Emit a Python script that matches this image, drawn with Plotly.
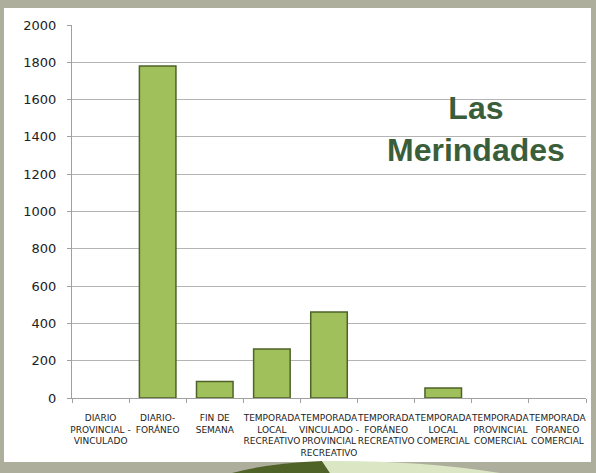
import plotly.graph_objects as go

categories = [
    "DIARIO<br>PROVINCIAL -<br>VINCULADO",
    "DIARIO-<br>FORÁNEO",
    "FIN DE<br>SEMANA",
    "TEMPORADA<br>LOCAL<br>RECREATIVO",
    "TEMPORADA<br>VINCULADO -<br>PROVINCIAL<br>RECREATIVO",
    "TEMPORADA<br>FORÁNEO<br>RECREATIVO",
    "TEMPORADA<br>LOCAL<br>COMERCIAL",
    "TEMPORADA<br>PROVINCIAL<br>COMERCIAL",
    "TEMPORADA<br>FORANEO<br>COMERCIAL",
]
values = [0, 1780, 88, 263, 461, 0, 54, 0, 0]
y_ticks = [0, 200, 400, 600, 800, 1000, 1200, 1400, 1600, 1800, 2000]

W, H = 596, 473
L, R, T, B = 72, 10, 25, 75
pw, ph = W - L - R, H - T - B

def px(x):
    return (x - L) / pw

def py(y):
    return (H - B - y) / ph

fig = go.Figure()
fig.add_trace(go.Bar(
    x=categories, y=[v if v else None for v in values],
    marker=dict(color="#9fc05a", line=dict(color="#4f6228", width=1.5)),
    width=0.64,
))

shapes = [
    dict(type="rect", xref="paper", yref="paper", layer="below",
         x0=px(4), x1=px(591), y0=py(462), y1=py(8),
         fillcolor="white", line=dict(width=0)),
    dict(type="path", xref="paper", yref="paper", layer="above",
         path=f"M {px(232)} {py(473)} Q {px(270)} {py(463)} {px(322)} {py(461)} L {px(330)} {py(473)} Z",
         fillcolor="#4f6228", line=dict(width=0)),
    dict(type="path", xref="paper", yref="paper", layer="above",
         path=f"M {px(322)} {py(461)} Q {px(420)} {py(460)} {px(500)} {py(473)} L {px(330)} {py(473)} Z",
         fillcolor="#dbe6c4", line=dict(width=0)),
]

fig.update_layout(
    width=W, height=H,
    margin=dict(l=L, r=R, t=T, b=B),
    paper_bgcolor="#aeae9c",
    plot_bgcolor="white",
    showlegend=False,
    shapes=shapes,
    font=dict(family="DejaVu Sans", color="#222222"),
    annotations=[dict(
        text="<b>Las<br>Merindades</b>", xref="paper", yref="paper",
        x=px(476), y=py(129), xanchor="center", yanchor="middle",
        showarrow=False,
        font=dict(size=32, color="#3a5e3a", family="Liberation Sans, Arial"),
        align="center",
    )],
)
fig.update_yaxes(
    range=[0, 2000], tickvals=y_ticks, showgrid=True, gridcolor="#b4b4b4",
    gridwidth=1, showline=True, linecolor="#a0a0a0", ticks="outside",
    ticklen=4, tickcolor="#a0a0a0", tickfont=dict(size=13, color="#222222", family="DejaVu Sans"),
    zeroline=False, ticklabelstandoff=8,
)
fig.update_xaxes(
    showline=True, linecolor="#a0a0a0", ticks="outside", ticklen=4,
    tickcolor="#a0a0a0", tickson="boundaries", tickangle=0,
    tickfont=dict(size=9, color="#222222", family="DejaVu Sans"),
    ticklabelstandoff=11,
)

fig.write_html("out.html", config={"displayModeBar": False},
               post_script="document.body.style.margin='0';document.body.style.padding='0';")
